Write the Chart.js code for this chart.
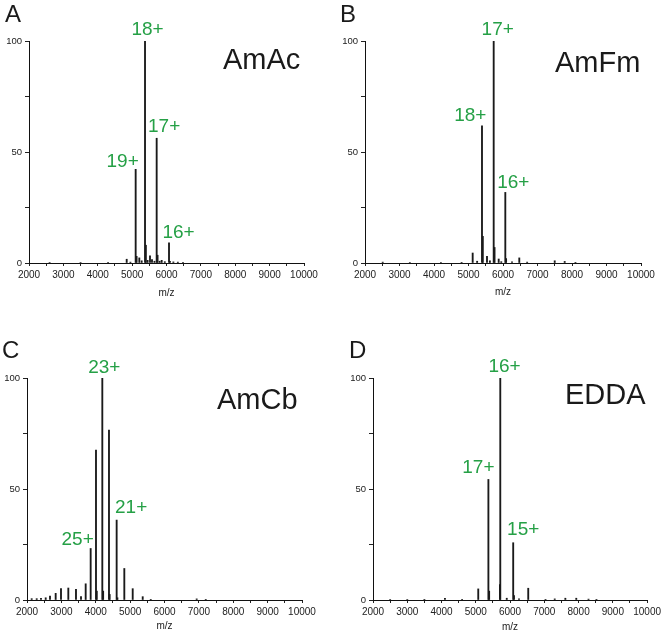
<!DOCTYPE html>
<html>
<head>
<meta charset="utf-8">
<script src="https://cdn.jsdelivr.net/npm/chart.js@4.4.1/dist/chart.umd.min.js"></script>
<style>
  html, body { margin: 0; padding: 0; background: #fff; }
  #wrap { position: relative; width: 664px; height: 635px; }
  canvas { position: absolute; }
</style>
</head>
<body>
<div id="wrap">
  <canvas id="chartA" width="332" height="317" style="left:0;top:0"></canvas>
  <canvas id="chartB" width="332" height="317" style="left:332px;top:0"></canvas>
  <canvas id="chartC" width="332" height="317" style="left:0;top:318px"></canvas>
  <canvas id="chartD" width="332" height="317" style="left:332px;top:318px"></canvas>
</div>
<script>
// m/z de cada pico y su intensidad relativa (%)
const mzA  = [2600, 3500, 4300, 4842, 4950, 5103, 5130, 5209, 5278, 5375, 5400, 5450, 5520, 5578, 5650, 5714, 5740, 5800, 5860, 5950, 6073, 6100, 6200, 6330, 6480];
const intA = [0.2, 0.2, 0.3, 1.7, 0.4, 42.2, 3, 2.3, 1.0, 100, 8, 1.2, 3.2, 1.5, 0.8, 56.2, 3.5, 0.8, 1.2, 0.6, 9.1, 0.8, 0.5, 0.4, 0.3];

const mzB  = [2513, 3300, 4200, 4800, 5121, 5250, 5391, 5415, 5536, 5620, 5730, 5755, 5875, 5950, 6067, 6090, 6261, 6472, 6700, 7499, 7788, 8100];
const intB = [0.4, 0.2, 0.2, 0.3, 4.5, 0.8, 61.8, 12, 3, 1, 100, 7, 1.8, 0.6, 31.8, 2, 0.5, 2.3, 0.4, 1, 0.7, 0.3];

const mzC  = [2136, 2282, 2407, 2544, 2669, 2834, 2989, 3202, 3425, 3571, 3707, 3852, 4007, 4030, 4191, 4215, 4385, 4405, 4608, 4630, 4831, 5075, 5366, 5600, 6936, 7200];
const intC = [0.6, 0.6, 0.7, 1, 1.8, 3, 5.1, 5.4, 4.8, 1.5, 7.3, 23.2, 67.5, 4, 100, 4, 76.5, 2.5, 36, 1, 14.2, 5.1, 1.5, 0.3, 0.5, 0.3];

const mzD  = [2500, 3000, 3500, 4100, 4600, 5072, 5368, 5390, 5705, 5715, 5904, 6092, 6115, 6261, 6531, 7035, 7304, 7614, 7933, 8290, 8522];
const intD = [0.2, 0.2, 0.3, 0.8, 0.3, 5, 54.3, 4, 7, 100, 0.8, 25.8, 2, 0.5, 5.3, 0.3, 0.5, 0.8, 0.8, 0.4, 0.3];

// estados de carga marcados
const chargesA = ['18+', '19+', '17+', '16+'];
const peaksA   = [5375, 5103, 5714, 6073];
const chargesB = ['17+', '18+', '16+'];
const peaksB   = [5730, 5391, 6067];
const chargesC = ['23+', '25+', '21+'];
const peaksC   = [4191, 3852, 4608];
const chargesD = ['16+', '17+', '15+'];
const peaksD   = [5715, 5368, 6092];

const xTicks = [2000, 3000, 4000, 5000, 6000, 7000, 8000, 9000, 10000];
const yTicks = [0, 50, 100];

const FONT = "'Liberation Sans', Arial, sans-serif";
const GREEN = '#25a046';

// desplazamientos de las etiquetas (px) respecto a la cima del pico
const offA = [[2.5, -6], [-13, -2], [7.5, -6], [9.5, -5]];
const offB = [[4, -6], [-11.7, -5], [8, -4.5]];
const offC = [[2, -5], [-13, -3.5], [14.5, -7]];
const offD = [[4.3, -6], [-10, -6.5], [10, -7.5]];

const panelText = {
    id: 'panelText',
    afterDraw(chart, args, opts) {
        const ctx = chart.ctx;
        const xs = chart.scales.x, ys = chart.scales.y;
        const mz = chart.data.datasets[0].data;
        ctx.save();
        ctx.fillStyle = '#1a1a1a';
        ctx.textAlign = 'left';
        ctx.textBaseline = 'alphabetic';
        ctx.font = '24px ' + FONT;
        ctx.fillText(opts.letter, opts.letterPos[0], opts.letterPos[1]);
        ctx.font = '29px ' + FONT;
        ctx.fillText(opts.name, opts.namePos[0], opts.namePos[1]);

        ctx.fillStyle = GREEN;
        ctx.textAlign = 'center';
        ctx.font = '19px ' + FONT;
        opts.charges.forEach((txt, i) => {
            const p = mz.find(d => d.x === opts.peaks[i]);
            if (!p) return;
            const px = xs.getPixelForValue(p.x) + opts.offsets[i][0];
            const py = ys.getPixelForValue(p.y) + opts.offsets[i][1];
            ctx.fillText(txt, px, py);
        });
        ctx.restore();
    }
};

function makeChart(id, mz, inten, box, text) {
    const data = mz.map((m, i) => ({ x: m, y: inten[i] }));
    return new Chart(document.getElementById(id), {
        type: 'bar',
        data: {
            datasets: [{
                data: data,
                backgroundColor: '#1a1a1a',
                borderWidth: 0,
                barThickness: 1.2,
                grouped: false
            }]
        },
        options: {
            responsive: false,
            animation: false,
            layout: {
                padding: { left: 0, right: 332 - box.right, top: box.top, bottom: 317 - box.bottom - box.xh }
            },
            plugins: {
                legend: { display: false },
                tooltip: { enabled: false },
                panelText: text
            },
            scales: {
                x: {
                    type: 'linear',
                    min: 2000,
                    max: 10000,
                    offset: false,
                    afterFit: s => { s.height = box.xh; },
                    grid: { display: true, offset: false, drawOnChartArea: false, drawTicks: true, tickLength: 3, color: '#222' },
                    border: { display: true, color: '#111', width: 1 },
                    ticks: {
                        stepSize: 500,
                        autoSkip: false,
                        maxRotation: 0,
                        padding: 3,
                        color: '#222',
                        font: { family: FONT, size: 10 },
                        callback: v => xTicks.includes(v) ? String(v) : ''
                    },
                    title: {
                        display: true,
                        text: 'm/z',
                        color: '#222',
                        padding: 0,
                        font: { family: FONT, size: 10 }
                    }
                },
                y: {
                    min: 0,
                    max: 100,
                    afterFit: s => { s.width = box.left; },
                    grid: { display: true, drawOnChartArea: false, drawTicks: true, tickLength: 4, color: '#222' },
                    border: { display: true, color: '#111', width: 1 },
                    ticks: {
                        stepSize: 25,
                        padding: 3,
                        color: '#222',
                        font: { family: FONT, size: 9.5 },
                        callback: v => yTicks.includes(v) ? String(v) : ''
                    }
                }
            }
        },
        plugins: [panelText]
    });
}

makeChart('chartA', mzA, intA,
    { left: 29, right: 304, top: 41, bottom: 263, xh: 36 },
    { letter: 'A', letterPos: [5, 22], name: 'AmAc', namePos: [223, 69], charges: chargesA, peaks: peaksA, offsets: offA });
makeChart('chartB', mzB, intB,
    { left: 33, right: 309, top: 41, bottom: 263, xh: 35 },
    { letter: 'B', letterPos: [8, 22], name: 'AmFm', namePos: [223, 72], charges: chargesB, peaks: peaksB, offsets: offB });
makeChart('chartC', mzC, intC,
    { left: 27, right: 302, top: 60, bottom: 282, xh: 32 },
    { letter: 'C', letterPos: [2, 40], name: 'AmCb', namePos: [217, 91], charges: chargesC, peaks: peaksC, offsets: offC });
makeChart('chartD', mzD, intD,
    { left: 41, right: 317, top: 60, bottom: 282, xh: 33 },
    { letter: 'D', letterPos: [17, 40], name: 'EDDA', namePos: [233, 86], charges: chargesD, peaks: peaksD, offsets: offD });
</script>
</body>
</html>
